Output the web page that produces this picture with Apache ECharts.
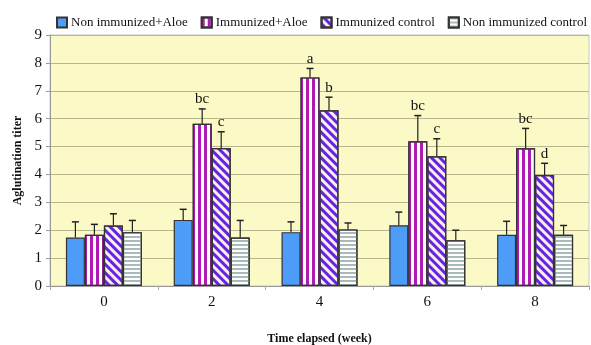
<!DOCTYPE html>
<html><head><meta charset="utf-8">
<script src="https://cdn.jsdelivr.net/npm/echarts@6/dist/echarts.min.js"></script>
<style>html,body{margin:0;padding:0;background:#fff}#c{width:591px;height:345px}</style>
</head><body><div id="c"></div>
<script>
var categories = ['0', '2', '4', '6', '8'];
var seriesNames = ['Non immunized+Aloe', 'Immunized+Aloe', 'Immunized control', 'Non immunized control'];
var nonImmAloe = [1.74, 2.37, 1.93, 2.18, 1.84];
var immAloe = [1.84, 5.82, 7.48, 5.19, 4.94];
var immControl = [2.17, 4.95, 6.3, 4.65, 3.98];
var nonImmControl = [1.93, 1.74, 2.03, 1.64, 1.84];
var errNonImmAloe = [0.56, 0.38, 0.37, 0.47, 0.48];
var errImmAloe = [0.37, 0.53, 0.32, 0.92, 0.71];
var errImmControl = [0.42, 0.58, 0.47, 0.63, 0.42];
var errNonImmControl = [0.42, 0.61, 0.23, 0.36, 0.33];
var lettersImmAloe = ['', 'bc', 'a', 'bc', 'bc'];
var lettersImmControl = ['', 'c', 'b', 'c', 'd'];
var yTicks = [0, 1, 2, 3, 4, 5, 6, 7, 8, 9];

var values = [nonImmAloe, immAloe, immControl, nonImmControl];
var errors = [errNonImmAloe, errImmAloe, errImmControl, errNonImmControl];
var letters = [null, lettersImmAloe, lettersImmControl, null];
var BW = 19;
var FONT = '"Liberation Serif","Times New Roman",serif';

var styles = [
  {color: '#4C9CF8', decal: null},
  {color: '#ffffff', decal: {symbol: 'rect', symbolSize: 1, color: '#B01AB4', dashArrayX: [3, 3], dashArrayY: [1, 0], rotation: 0}},
  {color: '#F4F0EC', decal: {symbol: 'rect', symbolSize: 1, color: '#6A22E0', dashArrayX: [3, 2.5], dashArrayY: [1, 0], rotation: -Math.PI / 4}},
  {color: '#ffffff', decal: {symbol: 'rect', symbolSize: 1, color: '#A9BABA', dashArrayX: [1, 0], dashArrayY: [2, 2], rotation: 0}}
];

var series = [];
values.forEach(function (v, i) {
  var itemStyle = {color: styles[i].color, borderColor: '#333', borderWidth: 1.2};
  if (styles[i].decal) itemStyle.decal = styles[i].decal;
  series.push({
    name: seriesNames[i], type: 'bar', data: v, barWidth: BW, barGap: '0%', barCategoryGap: '30%',
    itemStyle: itemStyle, emphasis: {disabled: true}, z: 2
  });
});
values.forEach(function (v, i) {
  var d = v.map(function (val, k) { return [k, val, errors[i][k]]; });
  series.push({
    type: 'custom', name: 'err' + i, data: d, z: 5, silent: true,
    renderItem: function (params, api) {
      var k = api.value(0), val = api.value(1), e = api.value(2);
      var p0 = api.coord([k, val]);
      var p1 = api.coord([k, val + e]);
      var x = p0[0] + (i - 1.5) * BW;
      var children = [
        {type: 'line', shape: {x1: x, y1: p0[1], x2: x, y2: p1[1]}, style: {stroke: '#222', lineWidth: 1.2}},
        {type: 'line', shape: {x1: x - 3.5, y1: p1[1], x2: x + 3.5, y2: p1[1]}, style: {stroke: '#222', lineWidth: 1.5}}
      ];
      var L = letters[i] ? letters[i][k] : '';
      if (L) {
        children.push({type: 'text', style: {text: L, x: x, y: p1[1] - 2, textAlign: 'center', textVerticalAlign: 'bottom', font: '15px ' + FONT, fill: '#111'}});
      }
      return {type: 'group', children: children};
    }
  });
});

var chart = echarts.init(document.getElementById('c'), null, {renderer: 'canvas'});
chart.setOption({
  animation: false,
  legend: {
    data: seriesNames, left: 56, top: 16, width: 535, padding: 0, icon: 'rect', itemWidth: 10, itemHeight: 10, itemGap: 13,
    textStyle: {fontFamily: FONT, fontSize: 13, color: '#111', padding: [0, 0, 0, -1]}
  },
  grid: {left: 50, right: 2, top: 35, bottom: 59, show: true, outerBoundsMode: 'none', containLabel: false,
    backgroundColor: '#FBF9C6', borderColor: '#C8C8C8', borderWidth: 1},
  xAxis: {
    type: 'category', data: categories, name: 'Time elapsed (week)', nameLocation: 'middle', nameGap: 47,
    nameTextStyle: {fontFamily: FONT, fontSize: 12, fontWeight: 'bold', color: '#111'},
    axisLine: {lineStyle: {color: '#999'}}, axisTick: {show: true, length: 4, lineStyle: {color: '#aaa'}},
    axisLabel: {fontFamily: FONT, fontSize: 15, color: '#111', margin: 9}
  },
  yAxis: {
    type: 'value', min: 0, max: 9, interval: 1, name: 'Aglutination titer', nameLocation: 'middle', nameGap: 20,
    nameTextStyle: {fontFamily: FONT, fontSize: 12, fontWeight: 'bold', color: '#111'},
    axisLine: {show: true, lineStyle: {color: '#999'}}, axisTick: {show: true, length: 4, lineStyle: {color: '#999'}},
    axisLabel: {fontFamily: FONT, fontSize: 15, color: '#111', margin: 8, formatter: function (v) { return yTicks.indexOf(v) >= 0 ? String(v) : ''; }},
    splitLine: {lineStyle: {color: '#B9B58C', width: 1.2}}
  },
  series: series
});
</script></body></html>
